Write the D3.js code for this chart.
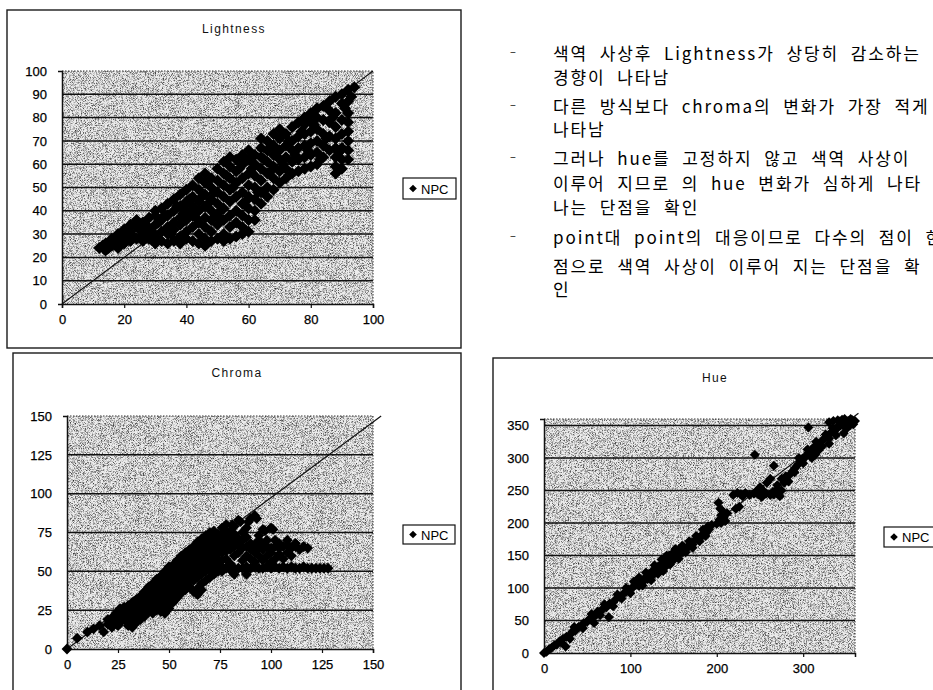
<!DOCTYPE html>
<html>
<head>
<meta charset="utf-8">
<script src="https://cdn.jsdelivr.net/npm/d3@7"></script>
<style>
  html, body { margin: 0; padding: 0; background: #fff; overflow: hidden; }
  svg { display: block; }
</style>
</head>
<body>
<svg id="page" width="933" height="690"></svg>
<script>
// ---- series: NPC gamut mapping, original value (x) vs. mapped value (y) ----
const seriesName = "NPC";

const lightnessPoints = [
  [12,24],[13,25],[14,23],[14,26],[15,24],[16,25],[16,28],[17,26],[18,24],[18,27],[18,30],[19,29],
  [20,26],[20,29],[20,32],[21,30],[22,27],[22,31],[22,34],[23,29],[24,28],[24,33],[24,36],[25,32],
  [26,27],[26,30],[26,35],[27,34],[28,28],[28,32],[28,37],[29,31],
  [30,26],[30,29],[30,34],[30,38],[30,40],[31,35],[32,27],[32,31],[32,36],[32,41],[33,38],
  [34,26],[34,30],[34,33],[34,38],[34,43],[35,30],[36,27],[36,32],[36,35],[36,40],[36,45],[37,42],
  [38,26],[38,29],[38,34],[38,37],[38,42],[38,47],[39,39],[40,28],[40,31],[40,36],[40,40],[40,44],[40,49],
  [41,45],[42,27],[42,33],[42,38],[42,42],[42,46],[42,51],[43,37],
  [44,26],[44,30],[44,35],[44,40],[44,44],[44,49],[44,54],[45,46],
  [46,25],[46,28],[46,33],[46,37],[46,42],[46,47],[46,52],[46,56],[47,43],
  [48,27],[48,31],[48,36],[48,40],[48,45],[48,50],[48,54],[49,48],
  [50,28],[50,34],[50,38],[50,43],[50,48],[50,53],[50,58],[51,40],
  [52,27],[52,30],[52,36],[52,41],[52,46],[52,51],[52,56],[52,61],[53,55],
  [54,28],[54,33],[54,38],[54,44],[54,49],[54,54],[54,59],[54,63],[55,50],
  [56,29],[56,35],[56,40],[56,46],[56,52],[56,57],[56,62],[57,58],
  [58,30],[58,33],[58,38],[58,43],[58,48],[58,54],[58,60],[58,64],[59,44],
  [60,31],[60,36],[60,41],[60,46],[60,51],[60,56],[60,62],[60,66],[61,58],
  [62,36],[62,40],[62,45],[62,50],[62,55],[62,60],[62,64],[63,48],
  [64,43],[64,48],[64,53],[64,58],[64,63],[64,67],[64,71],[65,62],
  [66,46],[66,50],[66,56],[66,61],[66,66],[66,70],[67,57],
  [68,49],[68,54],[68,59],[68,64],[68,68],[68,73],[69,65],
  [70,52],[70,57],[70,62],[70,66],[70,71],[70,75],[71,60],
  [72,54],[72,58],[72,63],[72,68],[72,73],[73,70],
  [74,56],[74,61],[74,66],[74,70],[74,76],[75,64],
  [76,57],[76,62],[76,67],[76,72],[76,78],[77,74],
  [78,58],[78,63],[78,68],[78,73],[78,77],[78,80],[79,66],
  [80,59],[80,64],[80,69],[80,74],[80,78],[80,82],[81,77],
  [82,60],[82,65],[82,70],[82,75],[82,80],[82,84],[83,62],
  [84,63],[84,68],[84,73],[84,79],[84,85],[85,71],
  [86,66],[86,72],[86,78],[86,83],[86,87],[87,80],
  [88,56],[88,59],[88,63],[88,67],[88,71],[88,76],[88,82],[88,89],[89,65],
  [90,58],[90,62],[90,67],[90,73],[90,79],[90,86],[90,90],[91,84],
  [92,62],[92,66],[92,70],[92,74],[92,78],[92,82],[92,87],[92,92],[93,89],[94,93]
];

const chromaPoints = [
  [0,0],[5,7],[10,11],[13,13],[16,15],[18,11],[20,16],[20,19],[21,17],[22,14],[22,20],[23,21],
  [24,18],[24,23],[25,15],[26,17],[26,21],[26,26],[27,23],[28,20],[28,24],[28,27],[29,18],
  [30,15],[30,19],[30,23],[30,28],[31,25],
  [32,14],[32,18],[32,22],[32,26],[32,30],[33,20],[34,17],[34,21],[34,25],[34,29],[34,32],[35,27],
  [36,19],[36,23],[36,27],[36,31],[36,34],[37,22],[38,21],[38,25],[38,29],[38,33],[38,37],[39,31],
  [40,24],[40,28],[40,32],[40,36],[40,40],[41,26],[41,37],[42,23],[42,27],[42,31],[42,35],[42,39],[42,42],
  [43,33],[44,25],[44,29],[44,33],[44,37],[44,41],[44,45],[45,28],[45,42],
  [46,24],[46,28],[46,32],[46,36],[46,40],[46,44],[46,47],[47,38],
  [48,23],[48,27],[48,31],[48,35],[48,39],[48,43],[48,47],[48,50],[49,31],[49,45],
  [50,26],[50,30],[50,34],[50,38],[50,42],[50,46],[50,50],[50,53],[51,40],
  [52,30],[52,34],[52,38],[52,42],[52,46],[52,50],[52,54],[53,36],[53,49],
  [54,33],[54,37],[54,41],[54,45],[54,49],[54,53],[54,57],[55,47],
  [56,36],[56,40],[56,44],[56,48],[56,52],[56,56],[56,60],[57,41],[57,55],
  [58,38],[58,42],[58,46],[58,50],[58,54],[58,58],[58,62],[59,52],
  [60,40],[60,44],[60,48],[60,52],[60,56],[60,60],[60,64],[61,46],[61,59],
  [62,37],[62,44],[62,48],[62,52],[62,56],[62,60],[62,63],[62,66],[63,58],
  [64,35],[64,39],[64,46],[64,50],[64,54],[64,58],[64,62],[64,66],[64,69],[65,52],[65,66],
  [66,38],[66,42],[66,48],[66,52],[66,56],[66,60],[66,64],[66,68],[66,71],[67,62],
  [68,44],[68,50],[68,54],[68,58],[68,62],[68,66],[68,70],[68,73],[69,57],[69,69],
  [70,46],[70,51],[70,55],[70,59],[70,63],[70,67],[70,71],[70,75],[71,65],
  [72,48],[72,52],[72,56],[72,60],[72,64],[72,68],[72,72],[72,76],[73,61],[73,72],
  [74,50],[74,54],[74,58],[74,62],[74,66],[74,70],[74,74],[75,68],
  [76,50],[76,53],[76,57],[76,62],[76,66],[76,70],[76,74],[76,78],[77,64],[77,77],
  [78,52],[78,58],[78,63],[78,67],[78,71],[78,75],[78,80],[79,70],
  [80,51],[80,55],[80,64],[80,68],[80,72],[80,76],[81,80],
  [82,48],[82,52],[82,60],[82,66],[82,70],[82,74],[82,79],
  [84,52],[84,62],[84,67],[84,71],[84,83],[85,82],[86,52],[86,57],[86,65],[86,70],[86,75],
  [88,48],[88,53],[88,60],[88,66],[88,72],[88,78],[89,82],[90,52],[90,58],[90,64],[90,68],[90,84],
  [92,53],[92,56],[92,62],[92,67],[92,86],[93,84],[94,52],[94,60],[94,65],[94,70],[94,73],
  [96,52],[96,57],[96,64],[96,68],[96,77],[97,76],[98,53],[98,60],[98,66],[98,70],
  [100,52],[100,56],[100,62],[100,65],[100,78],[101,77],[102,53],[102,58],[102,66],[102,70],
  [104,52],[104,61],[104,65],[104,68],[106,53],[106,58],[106,66],
  [108,52],[108,62],[108,67],[108,70],[110,53],[110,60],[110,65],
  [112,52],[112,66],[112,68],[114,52],[114,64],[116,53],[116,66],[118,52],[118,65],
  [120,52],[122,52],[124,52],[126,52],[128,52]
];

const huePoints = [
  [0,0],[3,2],[6,6],[9,8],[12,12],[15,13],[18,18],[20,16],[22,22],[25,10],[26,25],[30,28],[30,22],
  [33,33],[35,40],[36,34],[40,40],[43,41],[45,38],[46,46],[50,48],[53,53],[55,60],[56,55],[58,46],
  [60,58],[62,64],[65,63],[65,58],[68,68],[70,75],[72,70],[75,55],[76,76],[80,78],[80,72],[84,84],
  [85,90],[88,86],[90,84],[91,90],[95,94],[95,100],[98,98],
  [100,92],[102,100],[104,110],[105,104],[108,108],[110,103],[110,116],[112,112],[114,104],[115,110],
  [118,117],[118,124],[120,114],[122,122],[124,112],[125,118],[127,128],[128,135],[130,124],[132,133],
  [132,122],[135,128],[136,144],[137,138],[138,126],[140,132],[140,145],[142,150],[143,137],[145,150],
  [146,136],[148,141],[150,155],[150,144],[152,146],[152,160],[155,150],[156,145],[157,160],[160,155],
  [160,165],[162,163],[164,155],[165,160],[168,166],[168,172],[170,170],[172,167],[172,162],[175,174],
  [176,180],[178,178],[180,176],[180,172],[183,182],[184,190],[186,186],[187,180],[188,185],[190,195],
  [191,190],[194,197],
  [200,199],[203,205],[204,222],[205,212],[205,200],[207,218],[202,231],[208,208],[210,203],[212,215],
  [222,222],[226,225],
  [219,243],[224,246],[228,244],[230,241],[233,246],[238,243],[243,245],[245,248],[248,244],[252,243],
  [255,248],[257,245],[262,243],[265,248],[266,244],[270,245],[270,252],[273,241],[275,250],[252,240],
  [250,255],[258,262],[262,268],
  [244,305],[266,288],[306,347],
  [270,258],[275,268],[278,262],[280,272],[283,264],[285,275],[288,280],[290,278],[291,285],[294,290],
  [295,300],[297,295],[300,300],[300,292],[303,302],[305,313],[306,308],[309,312],[310,300],[312,316],
  [314,305],[315,325],[316,320],[318,312],[319,322],[322,327],[322,318],[325,330],[326,336],[328,334],
  [330,330],[330,322],[332,339],[334,346],[335,342],[338,344],[338,335],[340,348],[342,356],[343,350],
  [345,353],[347,338],[348,356],[348,360],[350,352],[350,345],[352,357],[354,350],[355,355],[355,360],
  [357,358],[358,352],[360,357],[335,357],[340,358],[330,355],[345,359]
];

// reference y = x guide segments, in data units
const lightnessGuide = [[0,0],[100,100]];
const chromaGuide = [[0,0],[154,150]];
const hueGuide = [[0,0],[364,369]];

// axis tick values
const lightnessTicksX = [0,20,40,60,80,100];
const lightnessTicksY = [0,10,20,30,40,50,60,70,80,90,100];
const chromaTicksX = [0,25,50,75,100,125,150];
const chromaTicksY = [0,25,50,75,100,125,150];
const hueTicksX = [0,100,200,300];
const hueTicksY = [0,50,100,150,200,250,300,350];

// notes beside the charts
const noteLines = [
  { bullet: true,  text: "색역 사상후 Lightness가 상당히 감소하는" },
  { bullet: false, text: "경향이 나타남" },
  { bullet: true,  text: "다른 방식보다 chroma의 변화가 가장 적게" },
  { bullet: false, text: "나타남" },
  { bullet: true,  text: "그러나 hue를 고정하지 않고 색역 사상이" },
  { bullet: false, text: "이루어 지므로 의 hue 변화가 심하게 나타" },
  { bullet: false, text: "나는 단점을 확인" },
  { bullet: true,  text: "point대 point의 대응이므로 다수의 점이 한" },
  { bullet: false, text: "점으로 색역 사상이 이루어 지는 단점을 확" },
  { bullet: false, text: "인" }
];
const noteBaselines = [60, 84, 113, 136, 165, 190, 214, 244, 273, 296];

// ---------------------------------------------------------------------------
const svg = d3.select("#page");
const latin = "'Liberation Sans', Arial, Helvetica, sans-serif";

// fine grey stipple used for the plot-area fill
const defs = svg.append("defs");
const grain = defs.append("filter").attr("id", "grain")
  .attr("x", 0).attr("y", 0).attr("width", 1).attr("height", 1);
grain.append("feTurbulence").attr("type", "fractalNoise")
  .attr("baseFrequency", 1.4).attr("numOctaves", 1).attr("seed", 11).attr("result", "noise");
grain.append("feColorMatrix").attr("in", "noise").attr("type", "matrix")
  .attr("values", "0 0 0 0 0  0 0 0 0 0  0 0 0 0 0  2.2 0 0 0 -0.97").attr("result", "dots");
grain.append("feComposite").attr("in", "dots").attr("in2", "SourceGraphic").attr("operator", "in");

const diamond = r => `M0,${-r}L${r},0L0,${r}L${-r},0Z`;

function drawChart(o) {
  const g = svg.append("g");

  // frame of the chart object
  g.append("rect")
    .attr("x", o.box[0]).attr("y", o.box[1]).attr("width", o.box[2]).attr("height", o.box[3])
    .attr("fill", "#fff").attr("stroke", "#1a1a1a").attr("stroke-width", 1.4);

  g.append("text")
    .attr("x", o.titlePos[0]).attr("y", o.titlePos[1])
    .attr("text-anchor", "middle")
    .attr("font-family", latin).attr("font-size", 12).attr("letter-spacing", 1.4)
    .attr("fill", "#111")
    .text(o.title);

  const [px, py, pw, ph] = o.plot;
  const x = d3.scaleLinear().domain(o.xDomain).range([px, px + pw]);
  const y = d3.scaleLinear().domain(o.yDomain).range([py + ph, py]);

  // plot area
  g.append("rect").attr("x", px).attr("y", py).attr("width", pw).attr("height", ph).attr("fill", "#ececec");
  g.append("rect").attr("x", px).attr("y", py).attr("width", pw).attr("height", ph)
    .attr("fill", "#000").attr("filter", "url(#grain)");

  // horizontal gridlines
  g.selectAll("line.grid")
    .data(o.yTicks.filter(v => v > o.yDomain[0] && v < o.yDomain[1]))
    .join("line").attr("class", "grid")
    .attr("x1", px).attr("x2", px + pw)
    .attr("y1", d => y(d)).attr("y2", d => y(d))
    .attr("stroke", "#111").attr("stroke-width", 1.5);

  // dotted top / right edge of plot area
  g.append("path")
    .attr("d", `M${px},${py}H${px + pw}V${py + ph}`)
    .attr("fill", "none").attr("stroke", "#333").attr("stroke-width", 1)
    .attr("stroke-dasharray", "1.5,1.5");

  // axes
  const xAxis = d3.axisBottom(x).tickValues(o.xTicks).tickSize(4).tickPadding(7).tickFormat(d3.format("d"));
  const yAxis = d3.axisLeft(y).tickValues(o.yTicks).tickSize(4).tickPadding(11).tickFormat(d3.format("d"));
  const gx = g.append("g").attr("transform", `translate(0,${py + ph})`).call(xAxis);
  const gy = g.append("g").attr("transform", `translate(${px},0)`).call(yAxis);
  [gx, gy].forEach(a => {
    a.select(".domain").attr("stroke", "#111").attr("stroke-width", 1.5);
    a.selectAll(".tick line").attr("stroke", "#111").attr("stroke-width", 1.2);
    a.selectAll(".tick text").attr("font-family", latin).attr("font-size", 13).attr("fill", "#000")
      .attr("stroke", "#000").attr("stroke-width", 0.25);
  });
  gy.selectAll(".tick line").attr("opacity", 0);

  // y = x guide
  g.append("path")
    .datum(o.guide)
    .attr("d", d3.line().x(d => x(d[0])).y(d => y(d[1])))
    .attr("fill", "none").attr("stroke", "#111").attr("stroke-width", 1.2);

  // scatter markers
  g.append("g").selectAll("path")
    .data(o.points)
    .join("path")
    .attr("transform", d => `translate(${x(d[0])},${y(d[1])})`)
    .attr("d", diamond(o.marker))
    .attr("fill", "#000");

  // legend
  const [lx, ly, lw, lh] = o.legend;
  const lg = g.append("g");
  lg.append("rect").attr("x", lx).attr("y", ly).attr("width", lw).attr("height", lh)
    .attr("fill", "#fff").attr("stroke", "#111").attr("stroke-width", 1.2);
  lg.append("path").attr("transform", `translate(${lx + 10},${ly + lh / 2})`)
    .attr("d", diamond(3.8)).attr("fill", "#000");
  lg.append("text").attr("x", lx + 18).attr("y", ly + lh / 2 + 5)
    .attr("font-family", latin).attr("font-size", 13).attr("fill", "#000")
    .text(seriesName);
}

drawChart({
  title: "Lightness", titlePos: [234, 33],
  box: [7, 10, 454, 338], plot: [62, 71, 311, 233],
  xDomain: [0, 100], yDomain: [0, 100],
  xTicks: lightnessTicksX, yTicks: lightnessTicksY,
  points: lightnessPoints, guide: lightnessGuide, marker: 6,
  legend: [403, 178, 53, 21]
});

drawChart({
  title: "Chroma", titlePos: [237, 377],
  box: [13, 353, 448, 345], plot: [67, 416, 306, 233],
  xDomain: [0, 150], yDomain: [0, 150],
  xTicks: chromaTicksX, yTicks: chromaTicksY,
  points: chromaPoints, guide: chromaGuide, marker: 5.4,
  legend: [403, 525, 52, 19]
});

drawChart({
  title: "Hue", titlePos: [715, 382],
  box: [493, 358, 450, 340], plot: [544, 419, 311, 234],
  xDomain: [0, 360], yDomain: [0, 360],
  xTicks: hueTicksX, yTicks: hueTicksY,
  points: huePoints, guide: hueGuide, marker: 5,
  legend: [884, 527, 60, 20]
});

// notes
const notes = svg.append("g").attr("font-family", "'Noto Sans CJK KR', 'Noto Sans', sans-serif");
notes.selectAll("text.line")
  .data(noteLines)
  .join("text").attr("class", "line")
  .attr("x", 553).attr("y", (d, i) => noteBaselines[i])
  .attr("font-size", 17).attr("letter-spacing", 1.9).attr("word-spacing", 6)
  .attr("fill", "#000")
  .text(d => d.text);
notes.selectAll("text.bullet")
  .data(noteLines.map((d, i) => ({ ...d, i })).filter(d => d.bullet))
  .join("text").attr("class", "bullet")
  .attr("x", 510).attr("y", d => noteBaselines[d.i] - 4)
  .attr("font-size", 11).attr("fill", "#000")
  .text("–");
</script>
</body>
</html>
